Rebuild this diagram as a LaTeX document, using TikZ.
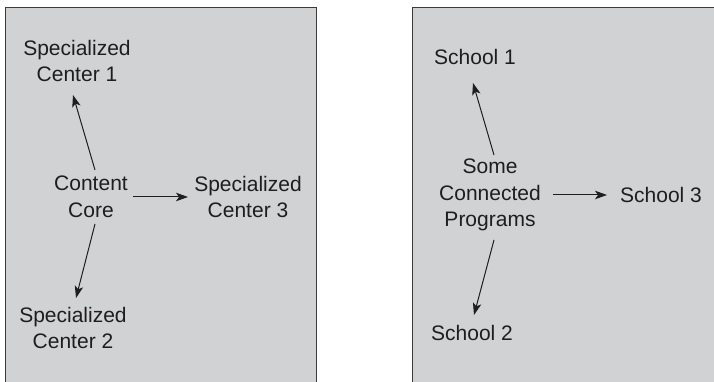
\documentclass[tikz,border=0pt]{standalone}
\usepackage{fontspec}
\setmainfont{Liberation Sans}
\usetikzlibrary{arrows.meta}
\definecolor{panel}{HTML}{D1D2D4}
\definecolor{edge}{HTML}{3A3A3A}
\definecolor{ink}{HTML}{1E1E1E}
\begin{document}
\begin{tikzpicture}[x=1pt,y=1pt,
  lbl/.style={align=center,inner sep=0pt,text=ink,font=\fontsize{21}{26.5}\selectfont},
  arr/.style={draw=ink,line width=1pt,-{Stealth[length=12pt,width=8.5pt,inset=3pt]}}]
\useasboundingbox (0,0) rectangle (714,382);
% panels
\fill[panel] (5,-5) rectangle (316,374.5);
\draw[edge,line width=1pt] (5,-5) -- (5,374.5) -- (316,374.5) -- (316,-5);
\fill[panel] (412,-5) rectangle (720,374.5);
\draw[edge,line width=1pt] (412,-5) -- (412,374.5) -- (720,374.5);
% left
\node[lbl] (cc)  at (91,185)  {Content\\Core};
\node[lbl] (sc1) at (77,321)  {Specialized\\Center 1};
\node[lbl] (sc3) at (248,185) {Specialized\\Center 3};
\node[lbl] (sc2) at (73,54)   {Specialized\\Center 2};
\draw[arr] ([shift={(4,27)}]cc.center) -- ([shift={(-4,-34)}]sc1.center);
\draw[arr] ([shift={(42,0)}]cc.center) -- ([shift={(-60,0)}]sc3.center);
\draw[arr] ([shift={(4,-27)}]cc.center) -- ([shift={(3,30)}]sc2.center);
% right
\node[lbl] (scp) at (490,187) {Some\\Connected\\Programs};
\node[lbl] (s1)  at (475,325) {School 1};
\node[lbl] (s3)  at (661,187) {School 3};
\node[lbl] (s2)  at (472,49)  {School 2};
\draw[arr] ([shift={(4,40)}]scp.center) -- ([shift={(-2,-26)}]s1.center);
\draw[arr] ([shift={(63,0)}]scp.center) -- ([shift={(-54,0)}]s3.center);
\draw[arr] ([shift={(4,-45)}]scp.center) -- ([shift={(2,18)}]s2.center);
\end{tikzpicture}
\end{document}
